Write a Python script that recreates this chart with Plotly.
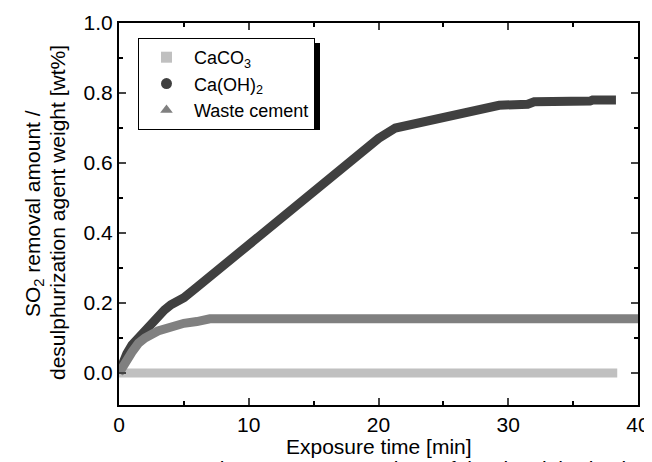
import plotly.graph_objects as go

# Data
caco3_x = [0, 5, 10, 15, 20, 25, 30, 35, 38.4]
caco3_y = [0, 0, 0, 0, 0, 0, 0, 0, 0]

caoh2_x = [0, 0.3, 0.6, 1, 1.5, 2, 2.5, 3, 3.5, 4, 5, 6, 7, 8, 9, 10, 11, 12, 13, 14, 15,
           16, 17, 18, 19, 20, 21.3, 23, 25, 27, 29.3, 31.5, 32, 36.3, 36.5, 38.3]
caoh2_y = [0, 0.03, 0.055, 0.08, 0.1, 0.12, 0.145, 0.165, 0.18, 0.195, 0.215, 0.245, 0.275,
           0.305, 0.335, 0.365, 0.4, 0.43, 0.46, 0.49, 0.52, 0.55, 0.58, 0.61, 0.64, 0.67,
           0.70, 0.715, 0.73, 0.745, 0.765, 0.768, 0.775, 0.777, 0.78, 0.78]

waste_x = [0, 0.3, 0.6, 1, 1.5, 2, 3, 4, 5, 6, 6.5, 7, 10, 20, 30, 40]
waste_y = [0, 0.02, 0.04, 0.06, 0.085, 0.1, 0.12, 0.132, 0.142, 0.147, 0.15, 0.155,
           0.155, 0.155, 0.155, 0.155]

names = ["CaCO<sub>3</sub>", "Ca(OH)<sub>2</sub>", "Waste cement"]
colors = ["#c0c0c0", "#404040", "#808080"]
symbols = ["square", "circle", "triangle-up"]

FONT = "Liberation Sans, Arial, sans-serif"

fig = go.Figure()
series = [(caco3_x, caco3_y), (caoh2_x, caoh2_y), (waste_x, waste_y)]
for (xs, ys), c in zip(series, colors):
    fig.add_trace(go.Scatter(x=xs, y=ys, mode="lines", line=dict(color=c, width=9),
                             showlegend=False, hoverinfo="skip"))
for nm, c, s in zip(names, colors, symbols):
    fig.add_trace(go.Scatter(x=[None], y=[None], mode="markers", name=nm,
                             marker=dict(color=c, symbol=s, size=11)))

# page body has an 8px margin; work in page coordinates and convert
OFF = 8
W, H = 652 - OFF, 462 - OFF
L = 119 - OFF
T = 23 - OFF
R = 652 - 638
B = 462 - 405
pw, ph = W - L - R, H - T - B

def px(xp):
    return (xp - OFF - L) / pw

def py(yp):
    return (H - B - (yp - OFF)) / ph

# drop shadow behind the legend box
fig.add_shape(type="rect", xref="paper", yref="paper",
              x0=px(143), x1=px(320), y0=py(130), y1=py(43),
              fillcolor="black", line=dict(width=0), layer="above")

fig.update_layout(
    width=W, height=H,
    margin=dict(l=L, r=R, t=T, b=B),
    paper_bgcolor="white", plot_bgcolor="white",
    font=dict(family=FONT, color="black", size=21),
    legend=dict(x=px(138), y=py(38), xanchor="left", yanchor="top",
                bgcolor="white", bordercolor="black", borderwidth=1,
                font=dict(size=18, family=FONT), itemwidth=45,
                tracegroupgap=0),
    showlegend=True,
)
fig.update_xaxes(range=[0, 40], tickvals=[0, 10, 20, 30, 40], ticks="inside",
                 ticklen=7, tickwidth=1.5, showline=True, linecolor="black", linewidth=2,
                 mirror="ticks", showgrid=False, zeroline=False, automargin=False,
                 minor=dict(tickvals=[5, 15, 25, 35], ticks="inside", ticklen=4, tickwidth=1.5,
                            tickcolor="black"),
                 tickfont=dict(size=21, family=FONT))
fig.update_yaxes(range=[-0.0914, 1.0], tickvals=[0, 0.2, 0.4, 0.6, 0.8, 1.0],
                 ticktext=["0.0", "0.2", "0.4", "0.6", "0.8", "1.0"],
                 ticks="inside", ticklen=7, tickwidth=1.5, showline=True, linecolor="black",
                 linewidth=2, mirror="ticks", showgrid=False, zeroline=False, automargin=False,
                 minor=dict(tickvals=[0.1, 0.3, 0.5, 0.7, 0.9], ticks="inside", ticklen=4,
                            tickwidth=1.5, tickcolor="black"),
                 tickfont=dict(size=21, family=FONT))

fig.add_annotation(text="Exposure time [min]", xref="paper", yref="paper",
                   x=px(379), y=py(446), xanchor="center", yanchor="middle",
                   showarrow=False, font=dict(size=21, family=FONT))
fig.add_annotation(text="SO<sub>2</sub> removal amount /",
                   xref="paper", yref="paper", x=px(34), y=py(214),
                   xanchor="center", yanchor="middle", textangle=-90, showarrow=False,
                   font=dict(size=21, family=FONT))
fig.add_annotation(text="desulphurization agent weight [wt%]",
                   xref="paper", yref="paper", x=px(57), y=py(213),
                   xanchor="center", yanchor="middle", textangle=-90, showarrow=False,
                   font=dict(size=21, family=FONT))
fig.add_annotation(text="Figure 3      Comparison of the desulphurization agents",
                   xref="paper", yref="paper", x=px(205), y=py(455),
                   xanchor="left", yanchor="top", showarrow=False,
                   font=dict(size=21, family=FONT))

fig.write_html("out.html")
